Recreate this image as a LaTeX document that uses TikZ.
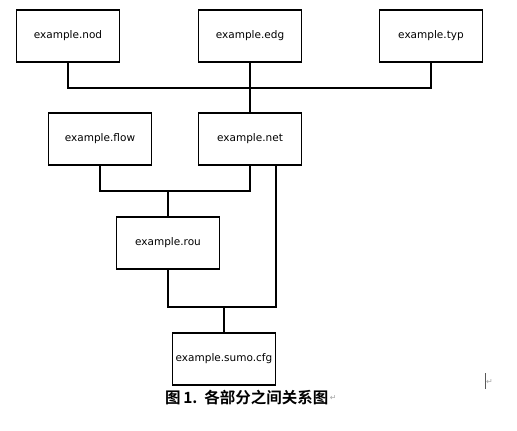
\documentclass[tikz,border=0pt]{standalone}
\usepackage{fontspec}
\setmainfont{DejaVu Sans}
\newfontfamily\cjkfont{Noto Sans CJK SC}[BoldFont={Noto Sans CJK SC Bold}]
\usetikzlibrary{calc,positioning}
\tikzset{
  % one box per file
  filebox/.style={draw, line width=1.7pt, minimum width=103pt, minimum height=52pt,
    inner sep=0pt, font=\fontsize{10.5}{12}\selectfont},
  % plain elbow connectors
  link/.style={line width=1.7pt},
  % word-processor marks
  wordmark/.style={gray!70, inner sep=0pt, font=\fontsize{8}{9}\selectfont},
}

\begin{document}
\begin{tikzpicture}[x=1pt,y=-1pt]
  \useasboundingbox (0,0) rectangle (517,431);
  % top row of input files
  \node[filebox] (nod) at (68,36) {example.nod};
  \node[filebox] (edg) at (250,36) {example.edg};
  \node[filebox] (typ) at (431,36) {example.typ};
  % second row
  \node[filebox] (flow) at (100,139) {example.flow};
  \node[filebox] (net) at (250,139) {example.net};
  % routes and config
  \node[filebox] (rou) at (168,243) {example.rou};
  \node[filebox] (cfg) at (224,359) {example.sumo.cfg};
  % nod + edg + typ -> net
  \coordinate (bus) at (250,88);
  \draw[link] (nod.south) |- (bus) -| (typ.south);
  \draw[link] (edg.south) -- (net.north);
  % flow + net -> rou
  \coordinate (join1) at (168,191);
  \draw[link] (flow.south) |- (join1) -| (net.south);
  \draw[link] (join1) -- (rou.north);
  % rou + net -> cfg
  \coordinate (netr) at (276,165);
  \coordinate (join2) at (224,307);
  \draw[link] (rou.south) |- (join2) -| (netr);
  \draw[link] (join2) -- (cfg.north);
  % caption
  \node[anchor=west, inner sep=0pt, font=\cjkfont\bfseries\fontsize{15.5}{17}\selectfont]
    (cap) at (165,398) {图\,1.\ \ 各部分之间关系图};
  \node[wordmark, right=1pt of cap] (ret) {↵};
  \node[wordmark, anchor=west] (ret2) at (486,382) {↵};
  \draw[gray!70!black, line width=0.6pt] (485,373) -- (485,389);
\end{tikzpicture}
\end{document}
